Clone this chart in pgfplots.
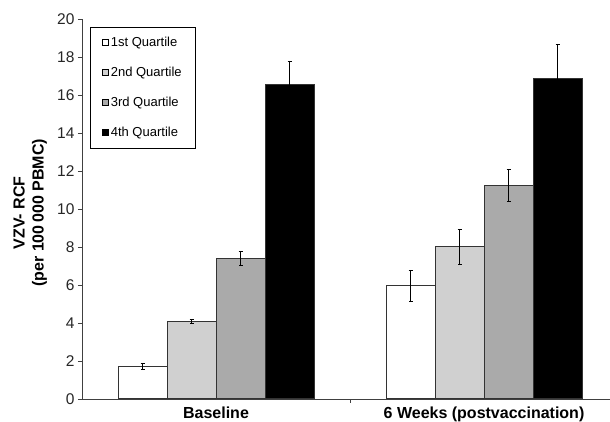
\documentclass[border=0pt]{standalone}
\usepackage{pgfplots}
\pgfplotsset{compat=1.18}
\usepackage{fontspec}
\setmainfont{Liberation Sans}
\definecolor{qlight}{RGB}{208,208,208}
\definecolor{qmid}{RGB}{170,170,170}
\pgfplotsset{/pgfplots/ybar legend/.style={/pgfplots/legend image code/.code={\draw[##1,draw=black,line width=0.6pt] (0pt,-3pt) rectangle (6pt,3pt);}}}
\begin{document}
\begin{tikzpicture}
\useasboundingbox (-82pt,-23pt) rectangle (528pt,399pt);
\begin{axis}[
  at={(0pt,0pt)}, anchor=south west,
  scale only axis, width=528pt, height=380pt,
  xmin=-0.5, xmax=1.47, ymin=0, ymax=20,
  axis x line=bottom, axis y line=left,
  axis line style={-, draw=black!75, line width=0.8pt},
  ybar=0pt, bar width=49pt,
  xtick={0,1}, xticklabels={Baseline,6 Weeks (postvaccination)},
  minor xtick={0.5,1.5},
  ytick={0,2,...,20},
  tick align=outside,
  major tick length=4pt, minor tick length=4pt,
  tick style={draw=black!75, line width=0.8pt},
  major x tick style={draw=none},
  yticklabel style={font=\fontsize{15.5}{15.5}\selectfont, text=black!85},
  xticklabel style={font=\bfseries\fontsize{16}{16}\selectfont},
  /pgf/number format/assume math mode=true,
  ylabel={VZV- RCF\\(per 100\,000 PBMC)},
  ylabel style={font=\bfseries\fontsize{16}{19}\selectfont, align=center, at={(axis description cs:-0.066,0.49)}, anchor=south, inner sep=0pt},
  legend style={at={(axis description cs:0.0152,0.979)}, anchor=north west, draw=black, font=\fontsize{13}{13}\selectfont, row sep=15pt, inner xsep=12pt, inner ysep=8pt},
  legend cell align=left,
  error bars/y dir=both, error bars/y explicit,
  error bars/error bar style={black, line width=0.8pt},
  error bars/error mark options={rotate=90, mark size=2pt, black, line width=0.8pt},
]
\addplot[fill=white, draw=black!80, line width=1pt] coordinates {(0,1.7) +- (0,0.15) (1,5.95) +- (0,0.8)};
\addplot[fill=qlight, draw=black!80, line width=1pt] coordinates {(0,4.1) +- (0,0.1) (1,8.0) +- (0,0.9)};
\addplot[fill=qmid, draw=black!80, line width=1pt] coordinates {(0,7.4) +- (0,0.35) (1,11.25) +- (0,0.85)};
\addplot[fill=black, draw=black!80, line width=1pt] coordinates {(0,16.55) +- (0,1.2) (1,16.85) +- (0,1.83)};
\legend{1st Quartile, 2nd Quartile, 3rd Quartile, 4th Quartile}
\end{axis}
\end{tikzpicture}
\end{document}
